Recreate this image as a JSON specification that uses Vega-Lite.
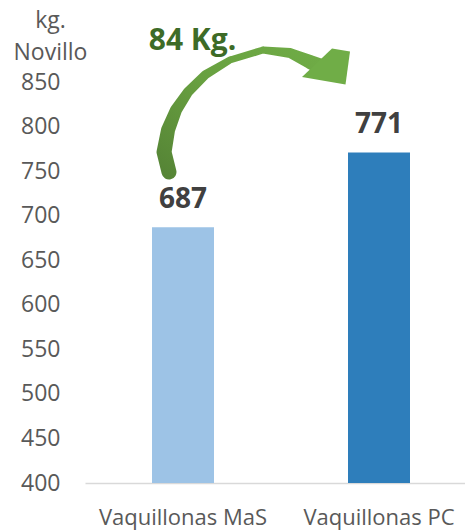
{
  "$schema": "https://vega.github.io/schema/vega-lite/v6.json",
  "width": 380,
  "height": 401,
  "autosize": "none",
  "padding": {"left": 85, "top": 82, "right": 0, "bottom": 48},
  "background": "white",
  "config": {"view": {"stroke": null}, "font": "Open Sans"},
  "datasets": {
    "bars": [
      {"cat": "Vaquillonas MaS", "kg": 687, "col": "#9DC3E6"},
      {"cat": "Vaquillonas PC", "kg": 771, "col": "#2E7EBB"}
    ],
    "arrow": [
      {"ord": 1, "ax": 0.442, "ay": 749.0, "w": 15},
      {"ord": 2, "ax": 0.416, "ay": 771.4, "w": 15},
      {"ord": 3, "ax": 0.437, "ay": 796.1, "w": 14},
      {"ord": 4, "ax": 0.479, "ay": 818.6, "w": 12},
      {"ord": 5, "ax": 0.542, "ay": 838.8, "w": 10},
      {"ord": 6, "ax": 0.632, "ay": 857.9, "w": 9},
      {"ord": 7, "ax": 0.763, "ay": 874.7, "w": 7},
      {"ord": 8, "ax": 0.937, "ay": 885.9, "w": 7},
      {"ord": 9, "ax": 1.079, "ay": 882.5, "w": 10},
      {"ord": 10, "ax": 1.184, "ay": 872.5, "w": 14},
      {"ord": 11, "ax": 1.247, "ay": 866.8, "w": 16}
    ],
    "head": [{"ax": 1.3, "ay": 869.0}],
    "note": [{"ax": 0.566, "ay": 885.9, "txt": "84 Kg."}]
  },
  "layer": [
    {
      "data": {"name": "bars"},
      "encoding": {
        "x": {
          "field": "cat",
          "type": "nominal",
          "sort": null,
          "scale": {"paddingInner": 0, "paddingOuter": 0, "range": [0, 392]},
          "axis": {
            "title": null,
            "labelAngle": 0,
            "labelFontSize": 22,
            "labelColor": "#595959",
            "labelPadding": 24,
            "ticks": false,
            "domainColor": "#D9D9D9",
            "domainWidth": 1.5
          }
        },
        "y": {
          "field": "kg",
          "type": "quantitative",
          "scale": {"domain": [400, 850], "zero": false, "nice": false},
          "axis": {
            "values": [400, 450, 500, 550, 600, 650, 700, 750, 800, 850],
            "grid": false,
            "domain": false,
            "ticks": false,
            "labelFontSize": 23,
            "labelColor": "#595959",
            "labelPadding": 25,
            "title": ["kg.", "Novillo"],
            "titleAngle": 0,
            "titleAlign": "center",
            "titleBaseline": "alphabetic",
            "titleX": -35,
            "titleY": -55,
            "titleFontSize": 23,
            "titleFontWeight": "normal",
            "titleColor": "#595959",
            "titleLineHeight": 32
          }
        }
      },
      "layer": [
        {
          "mark": {"type": "bar", "size": 62},
          "encoding": {
            "y2": {"datum": 400},
            "color": {"field": "col", "type": "nominal", "scale": null}
          }
        },
        {
          "mark": {"type": "text", "baseline": "alphabetic", "dy": -19, "fontSize": 28, "fontWeight": "bold", "color": "#404040"},
          "encoding": {"text": {"field": "kg", "type": "quantitative"}}
        }
      ]
    },
    {
      "layer": [
        {
          "data": {"name": "arrow"},
          "mark": {
            "type": "trail",
            "color": {
              "gradient": "linear",
              "x1": 0, "y1": 1, "x2": 1, "y2": 0,
              "stops": [
                {"offset": 0, "color": "#548235"},
                {"offset": 0.5, "color": "#68A040"},
                {"offset": 1, "color": "#70AD47"}
              ]
            }
          },
          "encoding": {
            "x": {"field": "ax", "type": "quantitative", "scale": {"domain": [0, 2]}, "axis": null},
            "y": {"field": "ay", "type": "quantitative", "axis": null},
            "order": {"field": "ord"},
            "size": {"field": "w", "type": "quantitative", "scale": null}
          }
        },
        {
          "data": {"name": "head"},
          "mark": {
            "type": "point",
            "filled": true,
            "opacity": 1,
            "color": "#70AD47",
            "size": 900,
            "shape": "M 0 -1.1 L 1.2 -0.9 L 0.9 1.3 L -2.0 0.8 Z"
          },
          "encoding": {
            "x": {"field": "ax", "type": "quantitative", "scale": {"domain": [0, 2]}, "axis": null},
            "y": {"field": "ay", "type": "quantitative", "axis": null}
          }
        },
        {
          "data": {"name": "note"},
          "mark": {"type": "text", "baseline": "alphabetic", "align": "center", "fontSize": 30, "fontWeight": "bold", "color": "#3D6B27"},
          "encoding": {
            "x": {"field": "ax", "type": "quantitative", "scale": {"domain": [0, 2]}, "axis": null},
            "y": {"field": "ay", "type": "quantitative", "axis": null},
            "text": {"field": "txt"}
          }
        }
      ]
    }
  ],
  "resolve": {"scale": {"x": "independent"}, "axis": {"x": "independent", "y": "independent"}}
}
